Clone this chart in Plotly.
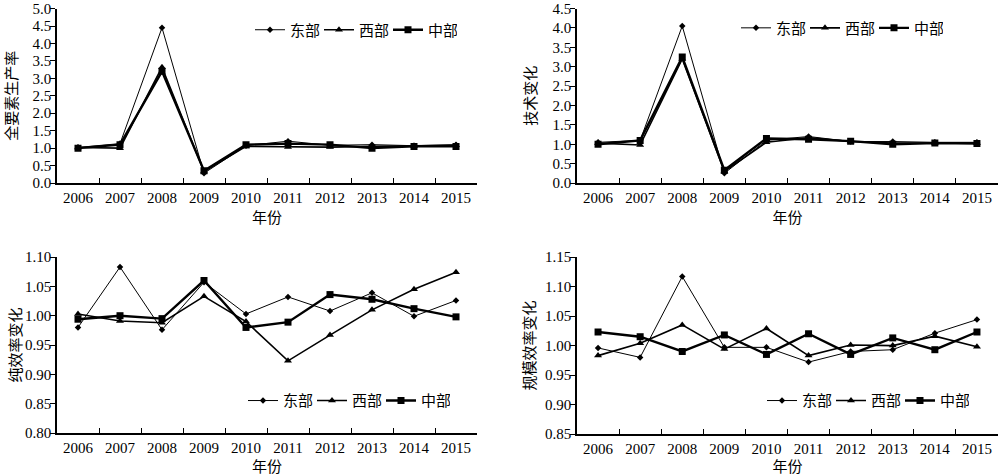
import plotly.graph_objects as go

years = ["2006", "2007", "2008", "2009", "2010", "2011", "2012", "2013", "2014", "2015"]
series_names = ["东部", "西部", "中部"]

tfp_east = [1.02, 1.13, 4.45, 0.28, 1.07, 1.20, 1.08, 1.10, 1.07, 1.10]
tfp_west = [1.02, 1.00, 3.32, 0.33, 1.05, 1.03, 1.03, 1.05, 1.06, 1.08]
tfp_mid = [1.00, 1.10, 3.20, 0.35, 1.10, 1.13, 1.10, 1.00, 1.05, 1.05]

tech_east = [1.05, 1.10, 4.05, 0.25, 1.10, 1.20, 1.07, 1.07, 1.05, 1.05]
tech_west = [1.03, 0.98, 3.20, 0.30, 1.05, 1.17, 1.07, 1.03, 1.03, 1.03]
tech_mid = [1.00, 1.10, 3.25, 0.33, 1.15, 1.13, 1.08, 1.00, 1.03, 1.02]

pure_east = [0.980, 1.083, 0.976, 1.057, 1.003, 1.032, 1.008, 1.039, 0.999, 1.026]
pure_west = [1.003, 0.991, 0.988, 1.033, 0.990, 0.923, 0.967, 1.010, 1.045, 1.074]
pure_mid = [0.994, 1.000, 0.995, 1.060, 0.980, 0.989, 1.036, 1.028, 1.012, 0.998]

scale_east = [0.996, 0.980, 1.117, 0.997, 0.997, 0.972, 0.990, 0.993, 1.021, 1.044]
scale_west = [0.983, 1.004, 1.035, 0.994, 1.029, 0.983, 1.001, 1.000, 1.016, 0.998]
scale_mid = [1.023, 1.015, 0.990, 1.018, 0.985, 1.020, 0.985, 1.013, 0.993, 1.023]

panels = [
    ("全要素生产率", [tfp_east, tfp_west, tfp_mid], [0, 5.0], 0.5, ".1f"),
    ("技术变化", [tech_east, tech_west, tech_mid], [0, 4.5], 0.5, ".1f"),
    ("纯效率变化", [pure_east, pure_west, pure_mid], [0.80, 1.10], 0.05, ".2f"),
    ("规模效率变化", [scale_east, scale_west, scale_mid], [0.85, 1.15], 0.05, ".2f"),
]

xdomains = [[0.057, 0.477], [0.577, 0.998], [0.057, 0.477], [0.577, 0.998]]
ydomains = [[0.6155, 0.982], [0.6155, 0.982], [0.0903, 0.460], [0.088, 0.460]]
legend_pos = [(0.250, 0.937), (0.736, 0.941), (0.243, 0.158), (0.762, 0.158)]
title_standoff = [13, 12, 0, 6]

styles = [
    dict(symbol="diamond", size=5, width=1.0),
    dict(symbol="triangle-up", size=7, width=1.6),
    dict(symbol="square", size=7, width=2.4),
]

FONT = "Liberation Serif, Times New Roman, Noto Sans CJK SC"
CJK = "Noto Sans CJK SC, Liberation Serif"

fig = go.Figure()
layout = dict(
    width=1000, height=476,
    margin=dict(l=0, r=0, t=0, b=0, autoexpand=False),
    paper_bgcolor="white", plot_bgcolor="white",
    font=dict(family=FONT, size=15, color="black"),
)

for i, (title, data, yr, dt, fmt) in enumerate(panels):
    n = i + 1
    xa = "x" if n == 1 else f"x{n}"
    ya = "y" if n == 1 else f"y{n}"
    lg = "legend" if n == 1 else f"legend{n}"
    for name, vals, st in zip(series_names, data, styles):
        fig.add_trace(go.Scatter(
            x=years, y=vals, name=name, mode="lines+markers",
            xaxis=xa, yaxis=ya, legend=lg,
            line=dict(color="black", width=st["width"]),
            marker=dict(symbol=st["symbol"], size=st["size"], color="black"),
        ))
    xkey = "xaxis" if n == 1 else f"xaxis{n}"
    ykey = "yaxis" if n == 1 else f"yaxis{n}"
    layout[xkey] = dict(
        domain=xdomains[i], anchor=ya, type="category", automargin=False,
        range=[-0.5, 9.5], tickson="boundaries", ticks="inside", ticklen=5,
        tickwidth=1, tickcolor="black", ticklabeloverflow="allow",
        showline=True, linecolor="black", linewidth=1.5, showgrid=False,
        zeroline=False, tickfont=dict(family=FONT, size=15),
        title=dict(text="年份", font=dict(family=CJK, size=15), standoff=0),
    )
    layout[ykey] = dict(
        domain=ydomains[i], anchor=xa, range=yr, dtick=dt, tick0=yr[0],
        tickformat=fmt, automargin=False, ticklabelstandoff=-4,
        ticklabeloverflow="allow",
        ticks="outside", ticklen=5, tickwidth=1, tickcolor="black",
        showline=True, linecolor="black", linewidth=1.5, showgrid=False,
        zeroline=False, tickfont=dict(family=FONT, size=15),
        title=dict(text=title, font=dict(family=CJK, size=15), standoff=title_standoff[i]),
    )
    lx, ly = legend_pos[i]
    layout[lg] = dict(
        x=lx, y=ly, xanchor="left", yanchor="middle", orientation="h",
        bgcolor="rgba(0,0,0,0)", font=dict(family=CJK, size=15),
        itemwidth=30, tracegroupgap=0, entrywidth=24, entrywidthmode="pixels",
    )

fig.update_layout(**layout)
fig.write_html("out.html", config={"displayModeBar": False},
               post_script="document.body.style.margin='0';")
